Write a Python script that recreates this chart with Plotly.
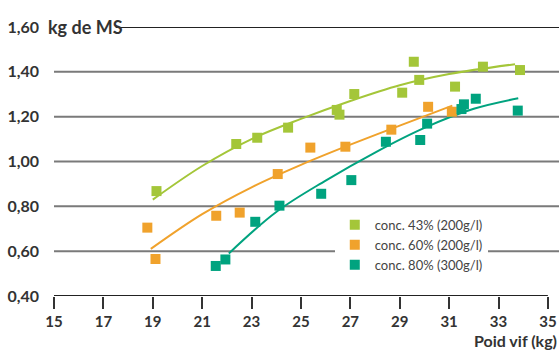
import plotly.graph_objects as go

# --- data ---
x_43 = [19.15, 22.38, 23.23, 24.48, 26.45, 26.56, 27.16, 29.10, 29.57, 29.79, 31.24, 32.37, 33.87]
y_43 = [0.868, 1.078, 1.106, 1.151, 1.230, 1.209, 1.301, 1.307, 1.445, 1.364, 1.334, 1.423, 1.408]
fit_x_43 = [19.0, 21.0, 23.0, 25.0, 27.0, 29.0, 31.0, 33.67]
fit_y_43 = [0.83, 0.98, 1.10, 1.19, 1.27, 1.34, 1.39, 1.434]

x_60 = [18.78, 19.11, 21.57, 22.52, 24.06, 25.38, 26.80, 28.66, 30.15, 31.11]
y_60 = [0.705, 0.565, 0.758, 0.772, 0.944, 1.062, 1.066, 1.142, 1.244, 1.222]
fit_x_60 = [18.92, 21.0, 23.0, 25.0, 27.0, 29.0, 31.13]
fit_y_60 = [0.61, 0.765, 0.885, 0.985, 1.075, 1.16, 1.249]

x_80 = [21.55, 21.94, 23.15, 24.13, 25.82, 27.04, 28.44, 29.83, 30.11, 31.50, 31.60, 32.08, 33.78]
y_80 = [0.534, 0.563, 0.731, 0.803, 0.856, 0.917, 1.088, 1.096, 1.169, 1.234, 1.255, 1.280, 1.227]
fit_x_80 = [22.08, 24.0, 26.0, 28.0, 30.0, 32.0, 33.8]
fit_y_80 = [0.59, 0.775, 0.915, 1.04, 1.15, 1.235, 1.282]

names = ["conc. 43% (200g/l)", "conc. 60% (200g/l)", "conc. 80% (300g/l)"]
colors = ["#a4c639", "#f0a22c", "#00a37f"]

y_ticks = [0.4, 0.6, 0.8, 1.0, 1.2, 1.4, 1.6]
x_ticks = [15, 17, 19, 21, 23, 25, 27, 29, 31, 33, 35]

fig = go.Figure()

series = [(x_43, y_43, fit_x_43, fit_y_43), (x_60, y_60, fit_x_60, fit_y_60), (x_80, y_80, fit_x_80, fit_y_80)]
for (xs, ys, fx, fy), name, col in zip(series, names, colors):
    fig.add_trace(go.Scatter(x=fx, y=fy, mode="lines", line=dict(color=col, width=2, shape="spline", smoothing=1.0),
                             showlegend=False, hoverinfo="skip"))
for (xs, ys, fx, fy), name, col in zip(series, names, colors):
    fig.add_trace(go.Scatter(x=xs, y=ys, mode="markers", name=name,
                             marker=dict(symbol="square", size=10, color=col, line=dict(width=0))))

# gridlines as shapes (drawn below data)
for yv in y_ticks[1:-1]:
    fig.add_shape(type="line", xref="x", yref="y", x0=15, x1=35.45, y0=yv, y1=yv,
                  line=dict(color="#7a7a7a", width=2), layer="below")
fig.add_shape(type="line", xref="x", yref="y", x0=17.5, x1=35.45, y0=1.6, y1=1.6,
              line=dict(color="#222222", width=2), layer="below")
fig.add_shape(type="line", xref="x", yref="y", x0=15, x1=35, y0=0.4, y1=0.4,
              line=dict(color="#222222", width=2), layer="below")

fig.update_layout(
    width=559, height=352,
    margin=dict(l=54, r=0, t=27, b=56),
    paper_bgcolor="white", plot_bgcolor="white",
    separators=", ",
    font=dict(family="Lato", color="#333333"),
    xaxis=dict(range=[15, 35.45], tickvals=x_ticks, ticks="outside", ticklen=12, tickwidth=2,
               tickcolor="#333333", showgrid=False, zeroline=False, showline=False,
               tickfont=dict(size=15, family="Lato", color="#333333", weight="bold")),
    yaxis=dict(range=[0.4, 1.6], tickvals=y_ticks, tickformat=".2f", showgrid=False, zeroline=False,
               showline=False, ticks="", ticklabelstandoff=14,
               tickfont=dict(size=16, family="Lato", color="#333333", weight="bold")),
    legend=dict(x=0.556, y=0.32, xanchor="left", yanchor="top", bgcolor="white",
                font=dict(size=13, family="Lato", color="#444444"), itemwidth=30,
                tracegroupgap=0),
    showlegend=True,
)

fig.add_annotation(text="<b>kg de MS</b>", xref="paper", yref="y", x=-0.013, y=1.6, xanchor="left",
                   yanchor="middle", showarrow=False, font=dict(size=18, family="Lato", color="#333333"),
                   borderpad=0)
fig.add_annotation(text="<b>Poid vif (kg)</b>", xref="paper", yref="paper", x=1.0, y=-0.165,
                   xanchor="right", yanchor="middle", showarrow=False,
                   font=dict(size=16, family="Lato", color="#333333"))

fig.write_html("out.html")
